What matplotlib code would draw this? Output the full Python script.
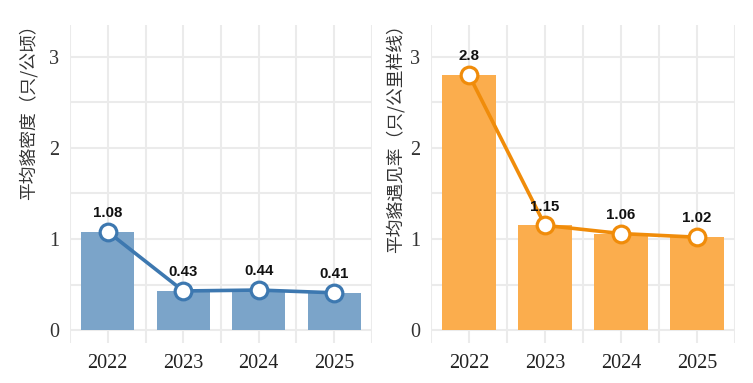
import matplotlib
matplotlib.use("Agg")
import matplotlib.pyplot as plt
import numpy as np

years = ["2022", "2023", "2024", "2025"]
density = [1.08, 0.43, 0.44, 0.41]
encounter = [2.8, 1.15, 1.06, 1.02]
density_label = "平均貉密度（只/公顷）"
encounter_label = "平均貉遇见率（只/公里样线）"
y_ticks = [0, 1, 2, 3]

plt.rcParams['font.family'] = ['Noto Sans CJK SC', 'DejaVu Sans']

fig = plt.figure(figsize=(7.53, 3.83), dpi=100)

grid_c = "#EBEBEB"
serif = ['Liberation Serif', 'DejaVu Serif']


def panel(rect, values, bar_c, line_c, ylabel, label_x):
    ax = fig.add_axes(rect)
    x = np.arange(len(years))
    ax.set_xlim(-0.5, len(years) - 0.5)
    ax.set_ylim(-0.143, 3.35)
    # grid
    for gx in np.arange(-0.5, len(years), 0.5):
        ax.axvline(gx, color=grid_c, lw=1.5, zorder=0)
    for gy in np.arange(0, 3.01, 0.5):
        ax.axhline(gy, color=grid_c, lw=1.5, zorder=0)
    ax.bar(x, values, width=0.7, color=bar_c, zorder=2)
    ax.plot(x, values, color=line_c, lw=2.6, zorder=3,
            marker='o', markersize=12, markerfacecolor='white',
            markeredgecolor=line_c, markeredgewidth=2.3)
    for xi, v in zip(x, values):
        ax.annotate(f"{v:g}", (xi, v), xytext=(0, 13.5), textcoords='offset points',
                    ha='center', va='center', fontsize=10.8, fontweight='bold',
                    family=['Liberation Sans', 'DejaVu Sans'], color='#111111', zorder=4)
    for s in ax.spines.values():
        s.set_visible(False)
    ax.set_xticks(x)
    ax.set_xticklabels(years, family=serif, fontsize=14.5, color='#222222')
    ax.set_yticks(y_ticks)
    ax.set_yticklabels([str(t) for t in y_ticks], family=serif, fontsize=14.5, color='#333333')
    ax.tick_params(axis='both', length=0)
    ax.tick_params(axis='x', pad=8)
    ax.tick_params(axis='y', pad=8)
    fig.text(label_x / 753, 1 - 15 / 383, ylabel, rotation=90, ha='center', va='top',
             fontsize=12.8, color='#333333')
    return ax


ax1 = panel([0.093, 0.104, 0.401, 0.831], density, "#7BA4C9", "#3D78B0", density_label, 28)
ax2 = panel([0.5724, 0.104, 0.4037, 0.831], encounter, "#FBAD4D", "#F08C0A", encounter_label, 395)

fig.savefig("out.png", dpi=100, facecolor='white')
